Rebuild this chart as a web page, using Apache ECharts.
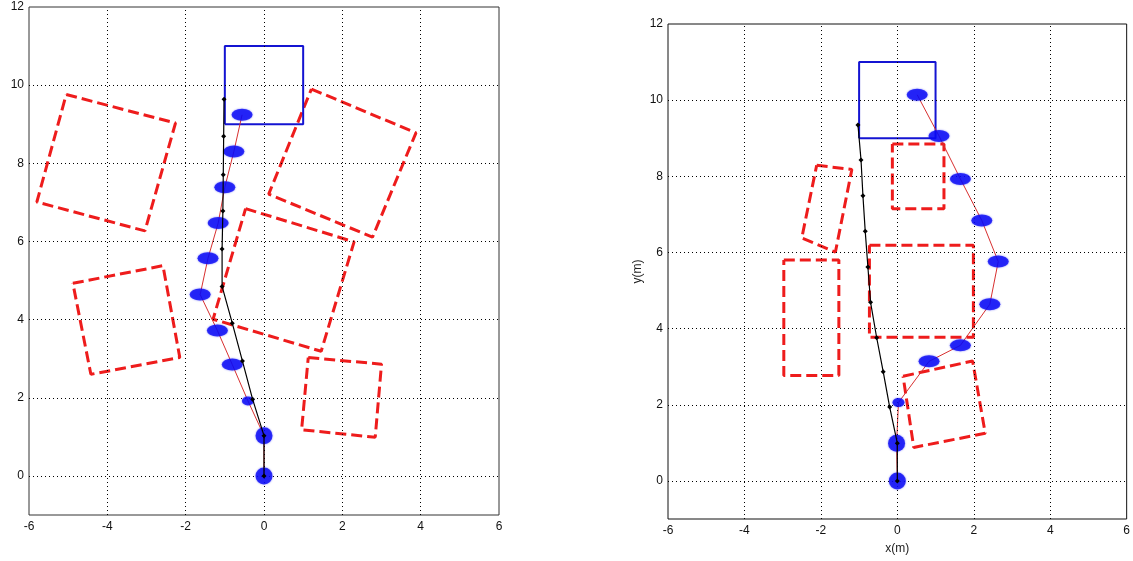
<!DOCTYPE html>
<html>
<head>
<meta charset="utf-8">
<script src="https://cdn.jsdelivr.net/npm/echarts@6/dist/echarts.min.js"></script>
<style>html,body{margin:0;padding:0;background:#fff;}#c{width:1133px;height:561px;}</style>
</head>
<body>
<div id="c"></div>
<script>
// ---- tick labels ----
const xTicks = [-6, -4, -2, 0, 2, 4, 6];
const yTicks = [0, 2, 4, 6, 8, 10, 12];
const gridXValues = [-4, -2, 0, 2, 4];
const gridYValues = [0, 2, 4, 6, 8, 10];

// ---- left plot data ----
const leftTarget = [[-1, 9], [1, 9], [1, 11], [-1, 11]];
const leftPath = [[0,0],[0,1.03],[-0.29,1.96],[-0.55,2.94],[-0.81,3.91],[-1.07,4.85],[-1.07,5.81],[-1.05,6.78],[-1.04,7.71],[-1.03,8.69],[-1.02,9.64]];
const leftBlobs = [[0,0],[0,1.03],[-0.41,1.92],[-0.81,2.85],[-1.19,3.72],[-1.63,4.64],[-1.43,5.57],[-1.17,6.47],[-1.0,7.39],[-0.77,8.30],[-0.56,9.24]];
const leftObs1 = [[-5.05,9.76],[-2.26,9.03],[-3.04,6.27],[-5.80,7.01]];
const leftObs2 = [[1.21,9.90],[3.88,8.78],[2.77,6.11],[0.12,7.21]];
const leftObs3 = [[-0.47,6.84],[2.30,5.99],[1.46,3.19],[-1.30,4.01]];
const leftObs4 = [[-4.88,4.93],[-2.58,5.38],[-2.15,3.03],[-4.42,2.60]];
const leftObs5 = [[1.13,3.03],[3.0,2.86],[2.84,0.99],[0.96,1.18]];

// ---- right plot data ----
const rightTarget = [[-1, 9], [1, 9], [1, 11], [-1, 11]];
const rightPath = [[0,0],[0,0.99],[-0.2,1.94],[-0.37,2.87],[-0.54,3.76],[-0.70,4.69],[-0.77,5.62],[-0.84,6.56],[-0.90,7.49],[-0.95,8.43],[-1.03,9.35]];
const rightBlobs = [[0,0],[-0.02,0.99],[0.03,2.06],[0.83,3.14],[1.65,3.56],[2.42,4.64],[2.64,5.76],[2.21,6.84],[1.65,7.93],[1.09,9.06],[0.52,10.14]];
const rightObs1 = [[-2.11,8.29],[-1.19,8.18],[-1.62,6.01],[-2.5,6.38]];
const rightObs2 = [[-0.13,8.85],[1.22,8.85],[1.22,7.15],[-0.13,7.15]];
const rightObs3 = [[-2.97,5.80],[-1.53,5.80],[-1.53,2.77],[-2.97,2.77]];
const rightObs4 = [[-0.73,6.19],[1.99,6.19],[1.99,3.77],[-0.73,3.77]];
const rightObs5 = [[0.15,2.75],[1.97,3.15],[2.3,1.25],[0.43,0.88]];

// ---- styling (not data) ----
const FONT = 'Liberation Sans';
const blobShapeLeft = ['round','round','small','wide','wide','wide','wide','wide','wide','wide','wide'];
const blobShapeRight = ['round','round','small','wide','wide','wide','wide','wide','wide','wide','wide'];
const shapeSize = { round: [17, 17], small: [12, 9], wide: [21, 12] };

const closed = pts => pts.concat([pts[0]]);

function obstacle(pts, gi) {
  return { type: 'line', xAxisIndex: gi, yAxisIndex: gi, data: closed(pts), symbol: 'none', silent: true,
    lineStyle: { color: '#ee1c1c', width: 3, type: [11, 5] }, z: 2, animation: false };
}
function target(pts, gi) {
  return { type: 'line', xAxisIndex: gi, yAxisIndex: gi, data: closed(pts), symbol: 'none', silent: true,
    lineStyle: { color: '#1414d2', width: 2 }, z: 3, animation: false,
    markLine: { silent: true, symbol: 'none', animation: false, label: { show: false },
      lineStyle: { color: '#000', width: 1, type: [1, 3] },
      data: gridYValues.map(v => ({ yAxis: v })).concat(gridXValues.map(v => ({ xAxis: v }))) } };
}
function particleLine(pts, gi) {
  return { type: 'line', xAxisIndex: gi, yAxisIndex: gi, data: pts, symbol: 'none', silent: true,
    lineStyle: { color: '#d83030', width: 1 }, z: 4, animation: false };
}
function blobs(pts, gi, shapes) {
  return { type: 'scatter', xAxisIndex: gi, yAxisIndex: gi, silent: true, animation: false,
    data: pts, symbol: 'circle',
    symbolSize: (v, p) => shapeSize[shapes[p.dataIndex]],
    itemStyle: { color: '#0a0af5', shadowBlur: 2, shadowColor: 'rgba(0,0,245,0.6)' }, z: 5 };
}
function path(pts, gi) {
  return { type: 'line', xAxisIndex: gi, yAxisIndex: gi, data: pts, symbol: 'diamond', symbolSize: 5,
    silent: true, itemStyle: { color: '#000' }, lineStyle: { color: '#000', width: 1.2 }, z: 6, animation: false };
}

function xAxis(gi, name) {
  return { type: 'value', gridIndex: gi, min: -6, max: 6, interval: 2,
    name: name, nameLocation: 'middle', nameGap: 24,
    nameTextStyle: { fontFamily: FONT, fontSize: 12, color: '#222' },
    axisLine: { show: false }, axisTick: { show: false }, splitLine: { show: false },
    axisLabel: { fontFamily: FONT, fontSize: 12, color: '#111', margin: 6 } };
}
function yAxis(gi, name) {
  return { type: 'value', gridIndex: gi, min: -1, max: 12,
    name: name, nameLocation: 'middle', nameGap: 24, nameRotate: 90,
    nameTextStyle: { fontFamily: FONT, fontSize: 12, color: '#222' },
    axisLine: { show: false }, axisTick: { show: false }, splitLine: { show: false },
    axisLabel: { fontFamily: FONT, fontSize: 12, color: '#111', margin: 5, customValues: yTicks } };
}

const option = {
  backgroundColor: '#fff',
  animation: false,
  grid: [
    { left: 29, top: 7, width: 470, height: 508, show: true, borderColor: '#333', borderWidth: 1, backgroundColor: '#fff' },
    { left: 668, top: 24, width: 464, height: 495, show: true, borderColor: '#111', borderWidth: 1, backgroundColor: '#fff' }
  ],
  xAxis: [xAxis(0, ''), xAxis(1, 'x(m)')],
  yAxis: [yAxis(0, ''), yAxis(1, 'y(m)')],
  series: [
    obstacle(leftObs1, 0), obstacle(leftObs2, 0), obstacle(leftObs3, 0), obstacle(leftObs4, 0), obstacle(leftObs5, 0),
    target(leftTarget, 0), particleLine(leftBlobs, 0), blobs(leftBlobs, 0, blobShapeLeft), path(leftPath, 0),
    obstacle(rightObs1, 1), obstacle(rightObs2, 1), obstacle(rightObs3, 1), obstacle(rightObs4, 1), obstacle(rightObs5, 1),
    target(rightTarget, 1), particleLine(rightBlobs, 1), blobs(rightBlobs, 1, blobShapeRight), path(rightPath, 1)
  ]
};
const chart = echarts.init(document.getElementById('c'), null, { renderer: 'canvas' });
chart.setOption(option);
</script>
</body>
</html>
